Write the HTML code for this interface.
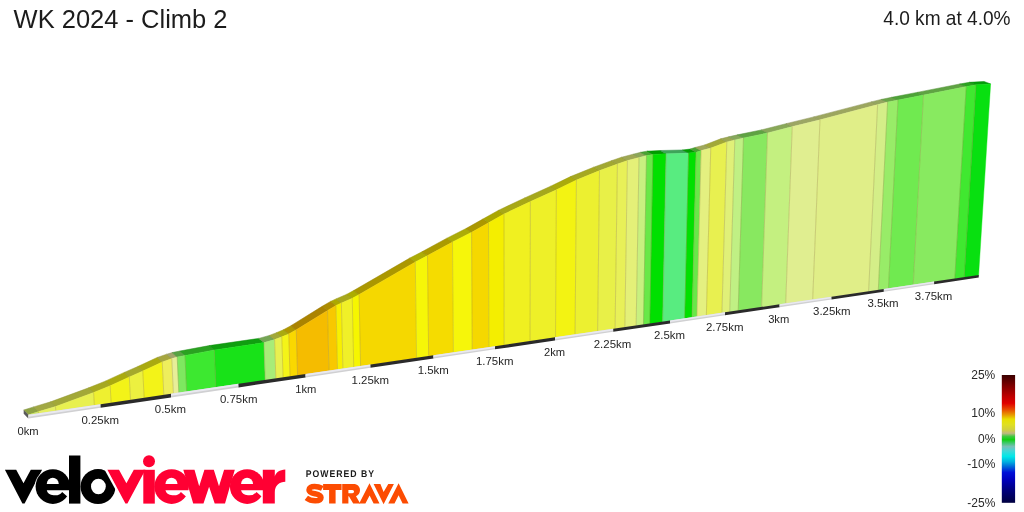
<!DOCTYPE html>
<html><head><meta charset="utf-8"><title>WK 2024 - Climb 2</title>
<style>
html,body{margin:0;padding:0;background:#fff;}
body{width:1024px;height:512px;overflow:hidden;}
svg{display:block;font-family:"Liberation Sans",sans-serif;}
</style></head><body>
<svg width="1024" height="512" viewBox="0 0 1024 512">
<rect width="1024" height="512" fill="#fff"/>
<polygon points="28.5,414.75 38.5,411.6 33.68,406.88 23.7,410" fill="#8EA243" stroke="#7E8F3B" stroke-width="0.5"/>
<polygon points="38.5,411.6 55.5,406.5 50.65,401.82 33.68,406.88" fill="#A1A844" stroke="#8E943C" stroke-width="0.5"/>
<polygon points="55.5,406.5 93.6,392.4 88.68,387.81 50.65,401.82" fill="#A2A838" stroke="#8F9431" stroke-width="0.5"/>
<polygon points="93.6,392.4 110.2,385.7 105.25,381.15 88.68,387.81" fill="#A6A821" stroke="#93941D" stroke-width="0.5"/>
<polygon points="110.2,385.7 129.3,376.9 124.31,372.39 105.25,381.15" fill="#AAAA10" stroke="#96960E" stroke-width="0.5"/>
<polygon points="129.3,376.9 142.8,371 137.79,366.52 124.31,372.39" fill="#A5A82C" stroke="#929427" stroke-width="0.5"/>
<polygon points="142.8,371 162.25,361.9 157.2,357.47 137.79,366.52" fill="#AAAA10" stroke="#96960E" stroke-width="0.5"/>
<polygon points="162.25,361.9 171.8,358.6 166.73,354.19 157.2,357.47" fill="#A6A640" stroke="#939339" stroke-width="0.5"/>
<polygon points="171.8,358.6 177.2,357 172.12,352.61 166.73,354.19" fill="#A2A66A" stroke="#8F935E" stroke-width="0.5"/>
<polygon points="177.2,357 185,355.4 179.91,351.03 172.12,352.61" fill="#58A243" stroke="#4E8F3B" stroke-width="0.5"/>
<polygon points="185,355.4 214.4,349.9 209.25,345.6 179.91,351.03" fill="#2AA221" stroke="#258F1D" stroke-width="0.5"/>
<polygon points="214.4,349.9 264,342.6 258.76,338.41 209.25,345.6" fill="#109E10" stroke="#0E8C0E" stroke-width="0.5"/>
<polygon points="264,342.6 274.6,339.6 269.34,335.44 258.76,338.41" fill="#75A554" stroke="#68924A" stroke-width="0.5"/>
<polygon points="274.6,339.6 281.8,336.8 276.53,332.66 269.34,335.44" fill="#A2A838" stroke="#8F9431" stroke-width="0.5"/>
<polygon points="281.8,336.8 288.75,333.9 283.46,329.77 276.53,332.66" fill="#AAAA10" stroke="#97970E" stroke-width="0.5"/>
<polygon points="288.75,333.9 296.25,329.8 290.95,325.69 283.46,329.77" fill="#AF9700" stroke="#9B8500" stroke-width="0.5"/>
<polygon points="296.25,329.8 327.5,310.4 322.14,306.37 290.95,325.69" fill="#AB8300" stroke="#977400" stroke-width="0.5"/>
<polygon points="327.5,310.4 336,305.4 330.62,301.39 322.14,306.37" fill="#AD8C00" stroke="#997C00" stroke-width="0.5"/>
<polygon points="336,305.4 341.4,302.9 336.01,298.9 330.62,301.39" fill="#ADA800" stroke="#999400" stroke-width="0.5"/>
<polygon points="341.4,302.9 352.25,298.25 346.84,294.28 336.01,298.9" fill="#A8A81C" stroke="#949418" stroke-width="0.5"/>
<polygon points="352.25,298.25 359.1,294.5 353.68,290.54 346.84,294.28" fill="#ACAC00" stroke="#989800" stroke-width="0.5"/>
<polygon points="359.1,294.5 415.3,261.9 409.78,258.08 353.68,290.54" fill="#AB9700" stroke="#978500" stroke-width="0.5"/>
<polygon points="415.3,261.9 427.5,255.6 421.95,251.81 409.78,258.08" fill="#ACAC05" stroke="#989804" stroke-width="0.5"/>
<polygon points="427.5,255.6 452.5,241.9 446.91,238.16 421.95,251.81" fill="#AB9A00" stroke="#978800" stroke-width="0.5"/>
<polygon points="452.5,241.9 471.6,232.25 465.97,228.56 446.91,238.16" fill="#ACAC07" stroke="#989806" stroke-width="0.5"/>
<polygon points="471.6,232.25 488.5,222.75 482.84,219.1 465.97,228.56" fill="#AB9700" stroke="#978500" stroke-width="0.5"/>
<polygon points="488.5,222.75 504,214 498.31,210.39 482.84,219.1" fill="#AAA600" stroke="#979300" stroke-width="0.5"/>
<polygon points="504,214 530.4,201.5 524.66,197.95 498.31,210.39" fill="#A8A816" stroke="#949413" stroke-width="0.5"/>
<polygon points="530.4,201.5 556.4,189.75 550.61,186.26 524.66,197.95" fill="#A6A81C" stroke="#939418" stroke-width="0.5"/>
<polygon points="556.4,189.75 576.4,180 570.57,176.56 550.61,186.26" fill="#AAAA0C" stroke="#96960B" stroke-width="0.5"/>
<polygon points="576.4,180 599.5,170.6 593.63,167.22 570.57,176.56" fill="#A5A821" stroke="#92941D" stroke-width="0.5"/>
<polygon points="599.5,170.6 617.4,164 611.5,160.66 593.63,167.22" fill="#A2A832" stroke="#8F942C" stroke-width="0.5"/>
<polygon points="617.4,164 627.4,160.6 621.48,157.28 611.5,160.66" fill="#A2A83D" stroke="#8F9436" stroke-width="0.5"/>
<polygon points="627.4,160.6 639,157.5 633.06,154.21 621.48,157.28" fill="#9FA854" stroke="#8D944A" stroke-width="0.5"/>
<polygon points="639,157.5 646.5,155.6 640.54,152.33 633.06,154.21" fill="#8CA859" stroke="#7C944F" stroke-width="0.5"/>
<polygon points="646.5,155.6 653,154.4 647.03,151.14 640.54,152.33" fill="#48A232" stroke="#408F2C" stroke-width="0.5"/>
<polygon points="653,154.4 666.1,153.75 660.11,150.53 647.03,151.14" fill="#009C00" stroke="#008A00" stroke-width="0.5"/>
<polygon points="666.1,153.75 688.6,153.1 682.56,149.93 660.11,150.53" fill="#3DA559" stroke="#36924F" stroke-width="0.5"/>
<polygon points="688.6,153.1 696.1,152.25 690.05,149.1 682.56,149.93" fill="#009C00" stroke="#008A00" stroke-width="0.5"/>
<polygon points="696.1,152.25 701.1,150.6 695.04,147.46 690.05,149.1" fill="#48A232" stroke="#408F2C" stroke-width="0.5"/>
<polygon points="701.1,150.6 710.75,148.1 704.67,144.98 695.04,147.46" fill="#9FA859" stroke="#8D944F" stroke-width="0.5"/>
<polygon points="710.75,148.1 726.8,141.9 720.69,138.82 704.67,144.98" fill="#A2A838" stroke="#8F9431" stroke-width="0.5"/>
<polygon points="726.8,141.9 734.8,139.9 728.68,136.84 720.69,138.82" fill="#9CA854" stroke="#8A944A" stroke-width="0.5"/>
<polygon points="734.8,139.9 743.5,137.9 737.36,134.86 728.68,136.84" fill="#86A85C" stroke="#779451" stroke-width="0.5"/>
<polygon points="743.5,137.9 767.5,132.9 761.32,129.92 737.36,134.86" fill="#5FA243" stroke="#548F3B" stroke-width="0.5"/>
<polygon points="767.5,132.9 792.25,126.6 786.02,123.68 761.32,129.92" fill="#89A859" stroke="#79944F" stroke-width="0.5"/>
<polygon points="792.25,126.6 820,119.75 813.72,116.89 786.02,123.68" fill="#9CA664" stroke="#8A9359" stroke-width="0.5"/>
<polygon points="820,119.75 877.6,104.6 871.21,101.88 813.72,116.89" fill="#9CA65F" stroke="#8A9354" stroke-width="0.5"/>
<polygon points="877.6,104.6 887.6,102.1 881.19,99.41 871.21,101.88" fill="#94A65F" stroke="#839354" stroke-width="0.5"/>
<polygon points="887.6,102.1 898,100 891.57,97.33 881.19,99.41" fill="#6AA548" stroke="#5E9240" stroke-width="0.5"/>
<polygon points="898,100 923.5,95 917.02,92.39 891.57,97.33" fill="#4EA338" stroke="#459131" stroke-width="0.5"/>
<polygon points="923.5,95 966.25,86.5 959.69,83.99 917.02,92.39" fill="#5FA343" stroke="#54913B" stroke-width="0.5"/>
<polygon points="966.25,86.5 976,84.8 969.43,82.32 959.69,83.99" fill="#2CA221" stroke="#278F1D" stroke-width="0.5"/>
<polygon points="976,84.8 990.6,83.9 984,81.45 969.43,82.32" fill="#059C0B" stroke="#048A09" stroke-width="0.5"/>
<polygon points="23.7,410 28.5,414.75 28.3,418.5 23.7,413.75" fill="#5A5A5A"/>
<polygon points="28.5,414.75 38.5,411.6 38.61,413.86 28.5,415.35" fill="#CCE860" stroke="#CCE860" stroke-width="0.4"/>
<polygon points="38.5,411.6 55.5,406.5 55.77,411.34 38.61,413.86" fill="#E6F062" stroke="#E6F062" stroke-width="0.4"/>
<polygon points="55.5,406.5 93.6,392.4 94.33,405.67 55.77,411.34" fill="#E8F050" stroke="#E8F050" stroke-width="0.4"/>
<polygon points="93.6,392.4 110.2,385.7 111.13,403.2 94.33,405.67" fill="#EEF030" stroke="#EEF030" stroke-width="0.4"/>
<polygon points="110.2,385.7 129.3,376.9 130.49,400.35 111.13,403.2" fill="#F3F318" stroke="#F3F318" stroke-width="0.4"/>
<polygon points="129.3,376.9 142.8,371 144.15,398.34 130.49,400.35" fill="#ECF040" stroke="#ECF040" stroke-width="0.4"/>
<polygon points="142.8,371 162.25,361.9 163.82,395.45 144.15,398.34" fill="#F3F318" stroke="#F3F318" stroke-width="0.4"/>
<polygon points="162.25,361.9 171.8,358.6 173.41,394.04 163.82,395.45" fill="#EEEE5C" stroke="#EEEE5C" stroke-width="0.4"/>
<polygon points="171.8,358.6 177.2,357 178.83,393.24 173.41,394.04" fill="#E8EE98" stroke="#E8EE98" stroke-width="0.4"/>
<polygon points="177.2,357 185,355.4 186.61,392.1 178.83,393.24" fill="#7EE860" stroke="#7EE860" stroke-width="0.4"/>
<polygon points="185,355.4 214.4,349.9 215.91,387.79 186.61,392.1" fill="#3DE830" stroke="#3DE830" stroke-width="0.4"/>
<polygon points="214.4,349.9 264,342.6 265.26,380.53 215.91,387.79" fill="#18E218" stroke="#18E218" stroke-width="0.4"/>
<polygon points="264,342.6 274.6,339.6 275.85,378.97 265.26,380.53" fill="#A8EC78" stroke="#A8EC78" stroke-width="0.4"/>
<polygon points="274.6,339.6 281.8,336.8 283.07,377.91 275.85,378.97" fill="#E8F050" stroke="#E8F050" stroke-width="0.4"/>
<polygon points="281.8,336.8 288.75,333.9 290.03,376.89 283.07,377.91" fill="#F4F418" stroke="#F4F418" stroke-width="0.4"/>
<polygon points="288.75,333.9 296.25,329.8 297.58,375.78 290.03,376.89" fill="#FAD800" stroke="#FAD800" stroke-width="0.4"/>
<polygon points="296.25,329.8 327.5,310.4 329,371.16 297.58,375.78" fill="#F5BC00" stroke="#F5BC00" stroke-width="0.4"/>
<polygon points="327.5,310.4 336,305.4 337.52,369.9 329,371.16" fill="#F8C800" stroke="#F8C800" stroke-width="0.4"/>
<polygon points="336,305.4 341.4,302.9 342.91,369.11 337.52,369.9" fill="#F8F000" stroke="#F8F000" stroke-width="0.4"/>
<polygon points="341.4,302.9 352.25,298.25 353.73,367.52 342.91,369.11" fill="#F0F028" stroke="#F0F028" stroke-width="0.4"/>
<polygon points="352.25,298.25 359.1,294.5 360.57,366.51 353.73,367.52" fill="#F6F600" stroke="#F6F600" stroke-width="0.4"/>
<polygon points="359.1,294.5 415.3,261.9 416.55,358.28 360.57,366.51" fill="#F5D800" stroke="#F5D800" stroke-width="0.4"/>
<polygon points="415.3,261.9 427.5,255.6 428.64,356.5 416.55,358.28" fill="#F6F608" stroke="#F6F608" stroke-width="0.4"/>
<polygon points="427.5,255.6 452.5,241.9 453.38,352.86 428.64,356.5" fill="#F5DC00" stroke="#F5DC00" stroke-width="0.4"/>
<polygon points="452.5,241.9 471.6,232.25 472.23,350.09 453.38,352.86" fill="#F6F60A" stroke="#F6F60A" stroke-width="0.4"/>
<polygon points="471.6,232.25 488.5,222.75 488.89,347.64 472.23,350.09" fill="#F5D800" stroke="#F5D800" stroke-width="0.4"/>
<polygon points="488.5,222.75 504,214 504.14,345.4 488.89,347.64" fill="#F4EE00" stroke="#F4EE00" stroke-width="0.4"/>
<polygon points="504,214 530.4,201.5 530.06,341.59 504.14,345.4" fill="#F0F020" stroke="#F0F020" stroke-width="0.4"/>
<polygon points="530.4,201.5 556.4,189.75 555.53,337.84 530.06,341.59" fill="#EEF028" stroke="#EEF028" stroke-width="0.4"/>
<polygon points="556.4,189.75 576.4,180 575.08,334.97 555.53,337.84" fill="#F3F312" stroke="#F3F312" stroke-width="0.4"/>
<polygon points="576.4,180 599.5,170.6 597.64,331.65 575.08,334.97" fill="#ECF030" stroke="#ECF030" stroke-width="0.4"/>
<polygon points="599.5,170.6 617.4,164 615.1,329.08 597.64,331.65" fill="#E8F048" stroke="#E8F048" stroke-width="0.4"/>
<polygon points="617.4,164 627.4,160.6 624.85,327.65 615.1,329.08" fill="#E8F058" stroke="#E8F058" stroke-width="0.4"/>
<polygon points="627.4,160.6 639,157.5 636.17,325.98 624.85,327.65" fill="#E4F078" stroke="#E4F078" stroke-width="0.4"/>
<polygon points="639,157.5 646.5,155.6 643.49,324.91 636.17,325.98" fill="#C8F080" stroke="#C8F080" stroke-width="0.4"/>
<polygon points="646.5,155.6 653,154.4 649.84,323.97 643.49,324.91" fill="#68E848" stroke="#68E848" stroke-width="0.4"/>
<polygon points="653,154.4 666.1,153.75 662.67,322.08 649.84,323.97" fill="#00E000" stroke="#00E000" stroke-width="0.4"/>
<polygon points="666.1,153.75 688.6,153.1 684.74,318.84 662.67,322.08" fill="#58EC80" stroke="#58EC80" stroke-width="0.4"/>
<polygon points="688.6,153.1 696.1,152.25 692.08,317.76 684.74,318.84" fill="#00E000" stroke="#00E000" stroke-width="0.4"/>
<polygon points="696.1,152.25 701.1,150.6 696.95,317.04 692.08,317.76" fill="#68E848" stroke="#68E848" stroke-width="0.4"/>
<polygon points="701.1,150.6 710.75,148.1 706.36,315.66 696.95,317.04" fill="#E4F080" stroke="#E4F080" stroke-width="0.4"/>
<polygon points="710.75,148.1 726.8,141.9 721.94,313.37 706.36,315.66" fill="#E8F050" stroke="#E8F050" stroke-width="0.4"/>
<polygon points="726.8,141.9 734.8,139.9 729.74,312.22 721.94,313.37" fill="#E0F078" stroke="#E0F078" stroke-width="0.4"/>
<polygon points="734.8,139.9 743.5,137.9 738.22,310.97 729.74,312.22" fill="#C0F084" stroke="#C0F084" stroke-width="0.4"/>
<polygon points="743.5,137.9 767.5,132.9 761.62,307.53 738.22,310.97" fill="#88E860" stroke="#88E860" stroke-width="0.4"/>
<polygon points="767.5,132.9 792.25,126.6 785.71,303.99 761.62,307.53" fill="#C4F080" stroke="#C4F080" stroke-width="0.4"/>
<polygon points="792.25,126.6 820,119.75 812.7,300.02 785.71,303.99" fill="#E0EE90" stroke="#E0EE90" stroke-width="0.4"/>
<polygon points="820,119.75 877.6,104.6 868.62,291.8 812.7,300.02" fill="#E0EE88" stroke="#E0EE88" stroke-width="0.4"/>
<polygon points="877.6,104.6 887.6,102.1 878.32,290.37 868.62,291.8" fill="#D4EE88" stroke="#D4EE88" stroke-width="0.4"/>
<polygon points="887.6,102.1 898,100 888.44,288.88 878.32,290.37" fill="#98EC68" stroke="#98EC68" stroke-width="0.4"/>
<polygon points="898,100 923.5,95 913.24,285.23 888.44,288.88" fill="#70EA50" stroke="#70EA50" stroke-width="0.4"/>
<polygon points="923.5,95 966.25,86.5 954.79,279.12 913.24,285.23" fill="#88EA60" stroke="#88EA60" stroke-width="0.4"/>
<polygon points="966.25,86.5 976,84.8 964.28,277.73 954.79,279.12" fill="#40E830" stroke="#40E830" stroke-width="0.4"/>
<polygon points="976,84.8 990.6,83.9 978.59,275.62 964.28,277.73" fill="#08E010" stroke="#08E010" stroke-width="0.4"/>
<line x1="38.5" y1="411.6" x2="38.61" y2="413.26" stroke="#94843A" stroke-opacity="0.5" stroke-width="0.65" stroke-linejoin="round"/>
<line x1="55.5" y1="406.5" x2="55.77" y2="410.74" stroke="#94843A" stroke-opacity="0.5" stroke-width="0.65" stroke-linejoin="round"/>
<line x1="93.6" y1="392.4" x2="94.33" y2="405.07" stroke="#94843A" stroke-opacity="0.5" stroke-width="0.65" stroke-linejoin="round"/>
<line x1="110.2" y1="385.7" x2="111.13" y2="402.6" stroke="#94843A" stroke-opacity="0.5" stroke-width="0.65" stroke-linejoin="round"/>
<line x1="129.3" y1="376.9" x2="130.49" y2="399.75" stroke="#94843A" stroke-opacity="0.5" stroke-width="0.65" stroke-linejoin="round"/>
<line x1="142.8" y1="371" x2="144.15" y2="397.74" stroke="#94843A" stroke-opacity="0.5" stroke-width="0.65" stroke-linejoin="round"/>
<line x1="162.25" y1="361.9" x2="163.82" y2="394.85" stroke="#94843A" stroke-opacity="0.5" stroke-width="0.65" stroke-linejoin="round"/>
<line x1="171.8" y1="358.6" x2="173.41" y2="393.44" stroke="#94843A" stroke-opacity="0.5" stroke-width="0.65" stroke-linejoin="round"/>
<line x1="177.2" y1="357" x2="178.83" y2="392.64" stroke="#94843A" stroke-opacity="0.5" stroke-width="0.65" stroke-linejoin="round"/>
<line x1="185" y1="355.4" x2="186.61" y2="391.5" stroke="#94843A" stroke-opacity="0.5" stroke-width="0.65" stroke-linejoin="round"/>
<line x1="214.4" y1="349.9" x2="215.91" y2="387.19" stroke="#94843A" stroke-opacity="0.5" stroke-width="0.65" stroke-linejoin="round"/>
<line x1="264" y1="342.6" x2="265.26" y2="379.93" stroke="#94843A" stroke-opacity="0.5" stroke-width="0.65" stroke-linejoin="round"/>
<line x1="274.6" y1="339.6" x2="275.85" y2="378.37" stroke="#94843A" stroke-opacity="0.5" stroke-width="0.65" stroke-linejoin="round"/>
<line x1="281.8" y1="336.8" x2="283.07" y2="377.31" stroke="#94843A" stroke-opacity="0.5" stroke-width="0.65" stroke-linejoin="round"/>
<line x1="288.75" y1="333.9" x2="290.03" y2="376.29" stroke="#94843A" stroke-opacity="0.5" stroke-width="0.65" stroke-linejoin="round"/>
<line x1="296.25" y1="329.8" x2="297.58" y2="375.18" stroke="#94843A" stroke-opacity="0.5" stroke-width="0.65" stroke-linejoin="round"/>
<line x1="327.5" y1="310.4" x2="329" y2="370.56" stroke="#94843A" stroke-opacity="0.5" stroke-width="0.65" stroke-linejoin="round"/>
<line x1="336" y1="305.4" x2="337.52" y2="369.3" stroke="#94843A" stroke-opacity="0.5" stroke-width="0.65" stroke-linejoin="round"/>
<line x1="341.4" y1="302.9" x2="342.91" y2="368.51" stroke="#94843A" stroke-opacity="0.5" stroke-width="0.65" stroke-linejoin="round"/>
<line x1="352.25" y1="298.25" x2="353.73" y2="366.92" stroke="#94843A" stroke-opacity="0.5" stroke-width="0.65" stroke-linejoin="round"/>
<line x1="359.1" y1="294.5" x2="360.57" y2="365.91" stroke="#94843A" stroke-opacity="0.5" stroke-width="0.65" stroke-linejoin="round"/>
<line x1="415.3" y1="261.9" x2="416.55" y2="357.68" stroke="#94843A" stroke-opacity="0.5" stroke-width="0.65" stroke-linejoin="round"/>
<line x1="427.5" y1="255.6" x2="428.64" y2="355.9" stroke="#94843A" stroke-opacity="0.5" stroke-width="0.65" stroke-linejoin="round"/>
<line x1="452.5" y1="241.9" x2="453.38" y2="352.26" stroke="#94843A" stroke-opacity="0.5" stroke-width="0.65" stroke-linejoin="round"/>
<line x1="471.6" y1="232.25" x2="472.23" y2="349.49" stroke="#94843A" stroke-opacity="0.5" stroke-width="0.65" stroke-linejoin="round"/>
<line x1="488.5" y1="222.75" x2="488.89" y2="347.04" stroke="#94843A" stroke-opacity="0.5" stroke-width="0.65" stroke-linejoin="round"/>
<line x1="504" y1="214" x2="504.14" y2="344.8" stroke="#94843A" stroke-opacity="0.5" stroke-width="0.65" stroke-linejoin="round"/>
<line x1="530.4" y1="201.5" x2="530.06" y2="340.99" stroke="#94843A" stroke-opacity="0.5" stroke-width="0.65" stroke-linejoin="round"/>
<line x1="556.4" y1="189.75" x2="555.53" y2="337.24" stroke="#94843A" stroke-opacity="0.5" stroke-width="0.65" stroke-linejoin="round"/>
<line x1="576.4" y1="180" x2="575.08" y2="334.37" stroke="#94843A" stroke-opacity="0.5" stroke-width="0.65" stroke-linejoin="round"/>
<line x1="599.5" y1="170.6" x2="597.64" y2="331.05" stroke="#94843A" stroke-opacity="0.5" stroke-width="0.65" stroke-linejoin="round"/>
<line x1="617.4" y1="164" x2="615.1" y2="328.48" stroke="#94843A" stroke-opacity="0.5" stroke-width="0.65" stroke-linejoin="round"/>
<line x1="627.4" y1="160.6" x2="624.85" y2="327.05" stroke="#94843A" stroke-opacity="0.5" stroke-width="0.65" stroke-linejoin="round"/>
<line x1="639" y1="157.5" x2="636.17" y2="325.38" stroke="#94843A" stroke-opacity="0.5" stroke-width="0.65" stroke-linejoin="round"/>
<line x1="646.5" y1="155.6" x2="643.49" y2="324.31" stroke="#94843A" stroke-opacity="0.5" stroke-width="0.65" stroke-linejoin="round"/>
<line x1="653" y1="154.4" x2="649.84" y2="323.37" stroke="#94843A" stroke-opacity="0.5" stroke-width="0.65" stroke-linejoin="round"/>
<line x1="666.1" y1="153.75" x2="662.67" y2="321.48" stroke="#94843A" stroke-opacity="0.5" stroke-width="0.65" stroke-linejoin="round"/>
<line x1="688.6" y1="153.1" x2="684.74" y2="318.24" stroke="#94843A" stroke-opacity="0.5" stroke-width="0.65" stroke-linejoin="round"/>
<line x1="696.1" y1="152.25" x2="692.08" y2="317.16" stroke="#94843A" stroke-opacity="0.5" stroke-width="0.65" stroke-linejoin="round"/>
<line x1="701.1" y1="150.6" x2="696.95" y2="316.44" stroke="#94843A" stroke-opacity="0.5" stroke-width="0.65" stroke-linejoin="round"/>
<line x1="710.75" y1="148.1" x2="706.36" y2="315.06" stroke="#94843A" stroke-opacity="0.5" stroke-width="0.65" stroke-linejoin="round"/>
<line x1="726.8" y1="141.9" x2="721.94" y2="312.77" stroke="#94843A" stroke-opacity="0.5" stroke-width="0.65" stroke-linejoin="round"/>
<line x1="734.8" y1="139.9" x2="729.74" y2="311.62" stroke="#94843A" stroke-opacity="0.5" stroke-width="0.65" stroke-linejoin="round"/>
<line x1="743.5" y1="137.9" x2="738.22" y2="310.37" stroke="#94843A" stroke-opacity="0.5" stroke-width="0.65" stroke-linejoin="round"/>
<line x1="767.5" y1="132.9" x2="761.62" y2="306.93" stroke="#94843A" stroke-opacity="0.5" stroke-width="0.65" stroke-linejoin="round"/>
<line x1="792.25" y1="126.6" x2="785.71" y2="303.39" stroke="#94843A" stroke-opacity="0.5" stroke-width="0.65" stroke-linejoin="round"/>
<line x1="820" y1="119.75" x2="812.7" y2="299.42" stroke="#94843A" stroke-opacity="0.5" stroke-width="0.65" stroke-linejoin="round"/>
<line x1="877.6" y1="104.6" x2="868.62" y2="291.2" stroke="#94843A" stroke-opacity="0.5" stroke-width="0.65" stroke-linejoin="round"/>
<line x1="887.6" y1="102.1" x2="878.32" y2="289.77" stroke="#94843A" stroke-opacity="0.5" stroke-width="0.65" stroke-linejoin="round"/>
<line x1="898" y1="100" x2="888.44" y2="288.28" stroke="#94843A" stroke-opacity="0.5" stroke-width="0.65" stroke-linejoin="round"/>
<line x1="923.5" y1="95" x2="913.24" y2="284.63" stroke="#94843A" stroke-opacity="0.5" stroke-width="0.65" stroke-linejoin="round"/>
<line x1="966.25" y1="86.5" x2="954.79" y2="278.52" stroke="#94843A" stroke-opacity="0.5" stroke-width="0.65" stroke-linejoin="round"/>
<line x1="976" y1="84.8" x2="964.28" y2="277.13" stroke="#94843A" stroke-opacity="0.5" stroke-width="0.65" stroke-linejoin="round"/>
<polygon points="28.5,414.75 100.6,404.15 100.6,407.86 28.5,418.55" fill="#D0D0D2"/>
<polygon points="28.5,414.75 100.6,404.15 100.6,406.19 28.5,416.84" fill="#E9E9F0"/>
<polygon points="100.6,404.15 171,393.79 171,397.41 100.6,407.86" fill="#2A2A2A"/>
<polygon points="171,393.79 238.5,383.87 238.5,387.4 171,397.41" fill="#D0D0D2"/>
<polygon points="171,393.79 238.5,383.87 238.5,385.81 171,395.78" fill="#E9E9F0"/>
<polygon points="238.5,383.87 305.6,374 305.6,377.45 238.5,387.4" fill="#2A2A2A"/>
<polygon points="305.6,374 370.5,364.45 370.5,367.82 305.6,377.45" fill="#D0D0D2"/>
<polygon points="305.6,374 370.5,364.45 370.5,366.31 305.6,375.9" fill="#E9E9F0"/>
<polygon points="370.5,364.45 433.5,355.19 433.5,358.48 370.5,367.82" fill="#2A2A2A"/>
<polygon points="433.5,355.19 495,346.14 495,349.35 433.5,358.48" fill="#D0D0D2"/>
<polygon points="433.5,355.19 495,346.14 495,347.91 433.5,357" fill="#E9E9F0"/>
<polygon points="495,346.14 555,337.32 555,340.45 495,349.35" fill="#2A2A2A"/>
<polygon points="555,337.32 613.25,328.75 613.25,331.81 555,340.45" fill="#D0D0D2"/>
<polygon points="555,337.32 613.25,328.75 613.25,330.44 555,339.04" fill="#E9E9F0"/>
<polygon points="613.25,328.75 670.1,320.39 670.1,323.38 613.25,331.81" fill="#2A2A2A"/>
<polygon points="670.1,320.39 725,312.32 725,315.24 670.1,323.38" fill="#D0D0D2"/>
<polygon points="670.1,320.39 725,312.32 725,313.92 670.1,322.04" fill="#E9E9F0"/>
<polygon points="725,312.32 779.6,304.29 779.6,307.14 725,315.24" fill="#2A2A2A"/>
<polygon points="779.6,304.29 831.5,296.66 831.5,299.44 779.6,307.14" fill="#D0D0D2"/>
<polygon points="779.6,304.29 831.5,296.66 831.5,298.19 779.6,305.86" fill="#E9E9F0"/>
<polygon points="831.5,296.66 883.9,288.95 883.9,291.67 831.5,299.44" fill="#2A2A2A"/>
<polygon points="883.9,288.95 934.1,281.57 934.1,284.22 883.9,291.67" fill="#D0D0D2"/>
<polygon points="883.9,288.95 934.1,281.57 934.1,283.03 883.9,290.45" fill="#E9E9F0"/>
<polygon points="934.1,281.57 978.75,275 978.75,277.6 934.1,284.22" fill="#2A2A2A"/>
<text style="filter:grayscale(1)" x="28" y="435" text-anchor="middle" font-size="10.3" fill="#262626" textLength="21.11" lengthAdjust="spacingAndGlyphs">0km</text>
<text style="filter:grayscale(1)" x="100.2" y="424" text-anchor="middle" font-size="10.3" fill="#262626" textLength="37.47" lengthAdjust="spacingAndGlyphs">0.25km</text>
<text style="filter:grayscale(1)" x="170.4" y="413" text-anchor="middle" font-size="10.3" fill="#262626" textLength="31.11" lengthAdjust="spacingAndGlyphs">0.5km</text>
<text style="filter:grayscale(1)" x="238.7" y="403" text-anchor="middle" font-size="10.3" fill="#262626" textLength="37.47" lengthAdjust="spacingAndGlyphs">0.75km</text>
<text style="filter:grayscale(1)" x="305.75" y="393" text-anchor="middle" font-size="10.3" fill="#262626" textLength="21.11" lengthAdjust="spacingAndGlyphs">1km</text>
<text style="filter:grayscale(1)" x="370.3" y="384" text-anchor="middle" font-size="10.3" fill="#262626" textLength="37.47" lengthAdjust="spacingAndGlyphs">1.25km</text>
<text style="filter:grayscale(1)" x="433.3" y="374" text-anchor="middle" font-size="10.3" fill="#262626" textLength="31.11" lengthAdjust="spacingAndGlyphs">1.5km</text>
<text style="filter:grayscale(1)" x="494.7" y="365" text-anchor="middle" font-size="10.3" fill="#262626" textLength="37.47" lengthAdjust="spacingAndGlyphs">1.75km</text>
<text style="filter:grayscale(1)" x="554.6" y="356" text-anchor="middle" font-size="10.3" fill="#262626" textLength="21.11" lengthAdjust="spacingAndGlyphs">2km</text>
<text style="filter:grayscale(1)" x="612.5" y="348" text-anchor="middle" font-size="10.3" fill="#262626" textLength="37.47" lengthAdjust="spacingAndGlyphs">2.25km</text>
<text style="filter:grayscale(1)" x="669.5" y="339" text-anchor="middle" font-size="10.3" fill="#262626" textLength="31.11" lengthAdjust="spacingAndGlyphs">2.5km</text>
<text style="filter:grayscale(1)" x="724.7" y="331" text-anchor="middle" font-size="10.3" fill="#262626" textLength="37.47" lengthAdjust="spacingAndGlyphs">2.75km</text>
<text style="filter:grayscale(1)" x="778.7" y="323" text-anchor="middle" font-size="10.3" fill="#262626" textLength="21.11" lengthAdjust="spacingAndGlyphs">3km</text>
<text style="filter:grayscale(1)" x="831.8" y="315" text-anchor="middle" font-size="10.3" fill="#262626" textLength="37.47" lengthAdjust="spacingAndGlyphs">3.25km</text>
<text style="filter:grayscale(1)" x="883" y="307" text-anchor="middle" font-size="10.3" fill="#262626" textLength="31.11" lengthAdjust="spacingAndGlyphs">3.5km</text>
<text style="filter:grayscale(1)" x="933.6" y="300" text-anchor="middle" font-size="10.3" fill="#262626" textLength="37.47" lengthAdjust="spacingAndGlyphs">3.75km</text>
<text style="filter:grayscale(1)" transform="translate(13.6,27.5) scale(1,1.035)" font-size="25.5" fill="#1c1c1c">WK 2024 - Climb 2</text>
<text style="filter:grayscale(1)" transform="translate(1010.6,25) scale(1,1.02)" font-size="19.1" fill="#1c1c1c" text-anchor="end">4.0 km at 4.0%</text>
<defs><linearGradient id="lg" x1="0" y1="0" x2="0" y2="1"><stop offset="0" stop-color="#3A0000"/><stop offset="0.086" stop-color="#800000"/><stop offset="0.169" stop-color="#C00000"/><stop offset="0.221" stop-color="#E00000"/><stop offset="0.273" stop-color="#E85000"/><stop offset="0.315" stop-color="#E8A000"/><stop offset="0.346" stop-color="#E8E000"/><stop offset="0.387" stop-color="#E0E020"/><stop offset="0.429" stop-color="#D0D040"/><stop offset="0.456" stop-color="#C0B880"/><stop offset="0.481" stop-color="#40C840"/><stop offset="0.506" stop-color="#10D010"/><stop offset="0.533" stop-color="#40C870"/><stop offset="0.56" stop-color="#78C0B8"/><stop offset="0.595" stop-color="#40D8D8"/><stop offset="0.637" stop-color="#00E8E8"/><stop offset="0.679" stop-color="#00B0E0"/><stop offset="0.721" stop-color="#0060D8"/><stop offset="0.762" stop-color="#0010D8"/><stop offset="0.814" stop-color="#0000C0"/><stop offset="0.897" stop-color="#000080"/><stop offset="1" stop-color="#000040"/></linearGradient></defs>
<rect x="1001.8" y="375" width="13.3" height="127.8" fill="url(#lg)"/>
<text style="filter:grayscale(1)" x="995.3" y="379" font-size="12" fill="#2a2a2a" text-anchor="end">25%</text>
<text style="filter:grayscale(1)" x="995.3" y="416.75" font-size="12" fill="#2a2a2a" text-anchor="end">10%</text>
<text style="filter:grayscale(1)" x="995.3" y="442.8" font-size="12" fill="#2a2a2a" text-anchor="end">0%</text>
<text style="filter:grayscale(1)" x="995.3" y="468.2" font-size="12" fill="#2a2a2a" text-anchor="end">-10%</text>
<text style="filter:grayscale(1)" x="995.3" y="506.6" font-size="12" fill="#2a2a2a" text-anchor="end">-25%</text>
<polygon points="4.9,469.7 16.2,469.7 23.5,483.2 30.8,469.7 42.1,469.7 24.6,503.4 22.4,503.4" fill="#000000"/>
<circle cx="52.9" cy="486.6" r="17.7" fill="none" stroke="#fff" stroke-width="0.9"/>
<circle cx="52.9" cy="486.6" r="17.3" fill="#000000"/>
<path d="M46.75,483.9 A6.03,6.3 0 0 1 58.8,483.9 Z" fill="#fff"/>
<path d="M46.75,490.2 L70.4,490.2 L70.4,499.3 L62.2,491.9 A8.2,6 0 0 1 46.75,490.2 Z" fill="#fff"/>
<rect x="69" y="455.5" width="11.4" height="48.1" fill="#000000"/>
<circle cx="98" cy="486.6" r="17.5" fill="#000000"/>
<ellipse cx="98.4" cy="486.6" rx="7.4" ry="7.75" fill="#fff"/>
<polygon points="104.2,469 107.6,469 126.6,503.6 123.1,503.6" fill="#fff"/>
<polygon points="107.4,469.7 119,469.7 126.4,483.2 133.8,469.7 145.4,469.7 127.4,503.4 125.4,503.4" fill="#FF0033"/>
<circle cx="171.6" cy="486.6" r="17.3" fill="#FF0033"/>
<path d="M165.45,483.9 A6.03,6.3 0 0 1 177.5,483.9 Z" fill="#fff"/>
<path d="M165.45,490.2 L189.1,490.2 L189.1,499.3 L180.9,491.9 A8.2,6 0 0 1 165.45,490.2 Z" fill="#fff"/>
<rect x="143.3" y="469.8" width="11.5" height="33.8" fill="#FF0033"/>
<circle cx="149" cy="461.3" r="6" fill="#FF0033"/>
<polygon points="183.3,469.8 194.5,469.8 199.2,486.3 204.4,469.8 213.8,469.8 219,486.3 224.1,469.8 234.8,469.8 225,503.6 214.7,503.6 209.1,486.8 203.5,503.6 193.2,503.6" fill="#FF0033"/>
<circle cx="247.2" cy="486.6" r="17.3" fill="#FF0033"/>
<path d="M241.05,483.9 A6.03,6.3 0 0 1 253.1,483.9 Z" fill="#fff"/>
<path d="M241.05,490.2 L264.7,490.2 L264.7,499.3 L256.5,491.9 A8.2,6 0 0 1 241.05,490.2 Z" fill="#fff"/>
<path d="M262.8,469.8 H274.8 V476.4 C276,472.2 279.5,469.7 285.3,469.4 V481.7 C279.5,481.7 274.8,485.2 274.8,492.5 V503.6 H262.8 Z" fill="#FF0033"/>
<text style="filter:grayscale(1)" transform="translate(305.7,476.9) scale(0.87,0.97)" text-rendering="geometricPrecision" font-size="10" font-weight="bold" fill="#1a1a1a" textLength="78.6" lengthAdjust="spacing">POWERED BY</text>
<path d="M322.3,488.4 C319.8,487.1 317.2,486.5 314.5,486.5 C311.2,486.5 309,487.8 309,489.9 C309,492.3 311.5,493 315,493.7 C318.8,494.5 321,495.3 321,497.6 C321,499.7 318.6,500.85 315.2,500.85 C311.8,500.85 308.8,499.8 306.3,497.9" fill="none" stroke="#FC4C02" stroke-width="5.5"/>
<path d="M323.1,484.1 H341.6 V489.9 H335.6 V503.5 H329.1 V489.9 H323.1 Z" fill="#FC4C02"/>
<path fill-rule="evenodd" d="M342.2,484.1 H353.5 C357.5,484.1 360,486.8 360,490.2 C360,493.2 358.3,495.3 356,496.2 L360.2,503.5 H353.2 L348.9,496.3 H348.4 V503.5 H342.2 Z M348.4,489.9 H352.3 C353.4,489.9 354,490.7 354,491.6 C354,492.5 353.4,493.3 352.3,493.3 H348.4 Z" fill="#FC4C02"/>
<polygon points="369.5,483.3 379.5,503.5 373.6,503.5 369.6,495.5 365.4,503.5 359.2,503.5" fill="#FC4C02"/>
<polygon points="373.6,484.1 380.4,484.1 383.6,492 388.25,484.1 393.9,484.1 383.6,504.2" fill="#FC4C02"/>
<polygon points="398.6,483.3 408.6,503.5 402.6,503.5 398.6,495.2 394.5,503.5 388.25,503.5" fill="#FC4C02"/>
</svg>
</body></html>
